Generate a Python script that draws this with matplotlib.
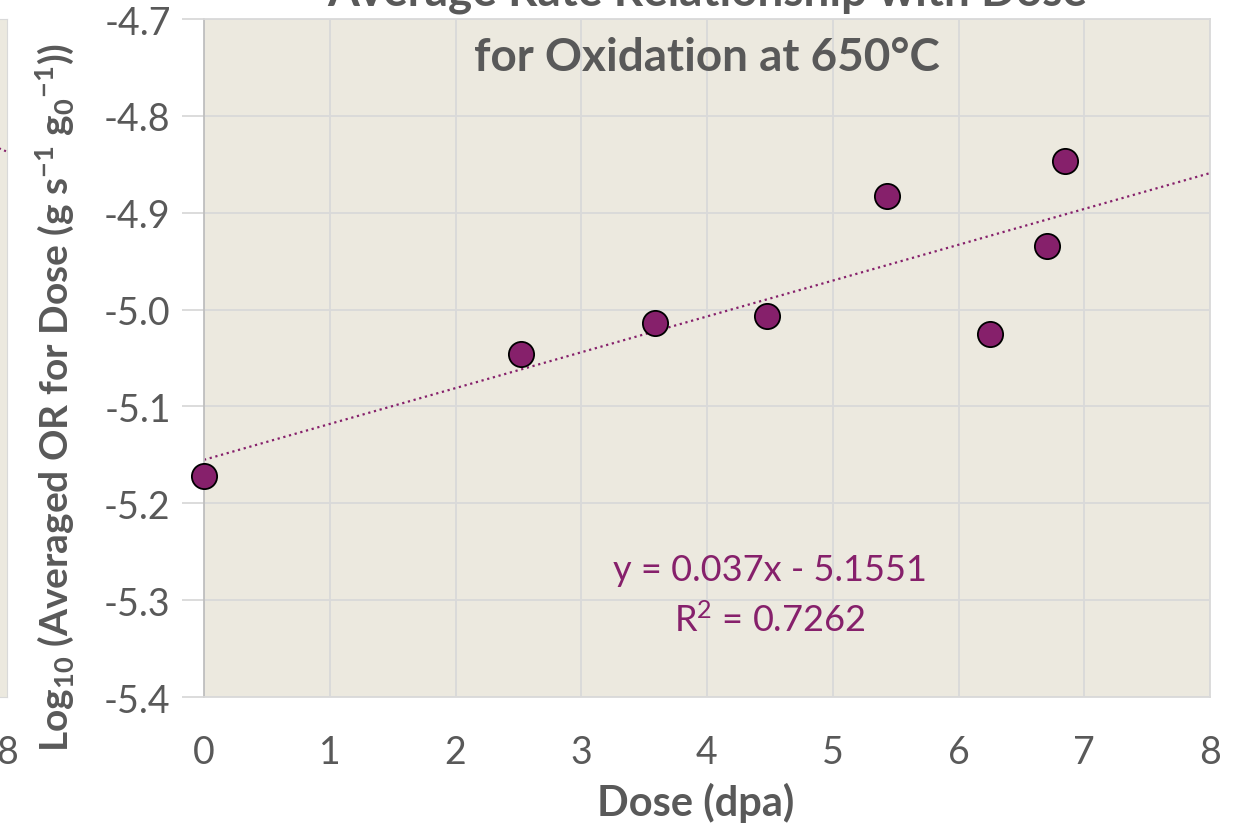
import numpy as np
import matplotlib
matplotlib.use("Agg")
import matplotlib.pyplot as plt

plt.rcParams['font.family'] = ['Lato', 'DejaVu Sans']
plt.rcParams['mathtext.default'] = 'regular'

# data
dose = [0.0, 2.52, 3.59, 4.48, 5.43, 6.25, 6.70, 6.85]
log_rate = [-5.172, -5.046, -5.014, -5.007, -4.883, -5.025, -4.934, -4.847]
slope, intercept = 0.037, -5.1551
r2 = 0.7262
xticks = [0, 1, 2, 3, 4, 5, 6, 7, 8]
yticks = [-5.4, -5.3, -5.2, -5.1, -5.0, -4.9, -4.8, -4.7]

purple = '#86206B'
bg = '#ECE9DF'
grid = '#D9D9D9'
txt = '#595959'

W, H = 1235, 829
fig = plt.figure(figsize=(W / 100, H / 100), dpi=100)

def px_axes(x0, y0, x1, y1):
    return fig.add_axes([x0 / W, 1 - y1 / H, (x1 - x0) / W, (y1 - y0) / H])

# sliver of neighbouring panel on the left
axl = px_axes(-300, 20, 7, 698)
axl.set_facecolor(bg)
axl.set_xlim(0, 8)
axl.set_ylim(-5.4, -4.7)
axl.plot([0, 8], [-4.70, -4.837], ':', color=purple, lw=1.5)
axl.set_xticks([8])
axl.set_yticks([])
axl.tick_params(axis='x', length=0, labelsize=27, labelcolor=txt, pad=27)
for s in axl.spines.values():
    s.set_color(grid)

ax = px_axes(204, 20, 1210, 698)
ax.set_facecolor(bg)
ax.set_xlim(0, 8)
ax.set_ylim(-5.4, -4.7)
ax.set_xticks(xticks)
ax.set_yticks(yticks)
ax.set_yticklabels([f'{v:.1f}' for v in yticks])
ax.grid(True, color=grid, lw=1.3)
ax.set_axisbelow(True)
ax.tick_params(axis='y', length=16, color=grid, width=1.3, labelsize=27,
               labelcolor=txt, pad=8)
ax.tick_params(axis='x', length=0, labelsize=27, labelcolor=txt, pad=27)
for s in ax.spines.values():
    s.set_color(grid)
    s.set_linewidth(1.3)
ax.spines['left'].set_color('#BFBFBF')

xs = np.array([0, 8])
ax.plot(xs, slope * xs + intercept, ':', color=purple, lw=1.6, zorder=2)
ax.scatter(dose, log_rate, s=330, color=purple, edgecolors='black',
           linewidths=1.3, zorder=3, clip_on=False)

ax.text(4.5, -5.268, f'y = {slope}x - {abs(intercept)}', color=purple,
        fontsize=26, ha='center', va='center')
ax.text(4.5, -5.32, f'R$^2$ = {r2}', color=purple,
        fontsize=26, ha='center', va='center')

ax.set_xlabel('Dose (dpa)', fontsize=30, fontweight='bold', color=txt,
              labelpad=10)
ax.xaxis.set_label_coords(0.489, -0.125)
fig.text(55 / W, 1 - 397 / H,
         'Log$_{10}$ (Averaged OR for Dose (g s$^{-1}$ g$_0$$^{-1}$))',
         rotation=90, fontsize=28, fontweight='bold', color=txt,
         ha='center', va='center')

fig.text(707 / W, 1 - 6 / H, 'Average Rate Relationship with Dose',
         fontsize=33, fontweight='bold', color=txt, ha='center', va='baseline')
fig.text(707 / W, 1 - 71 / H, 'for Oxidation at 650°C',
         fontsize=33, fontweight='bold', color=txt, ha='center', va='baseline')

fig.savefig('out.png', dpi=100)
